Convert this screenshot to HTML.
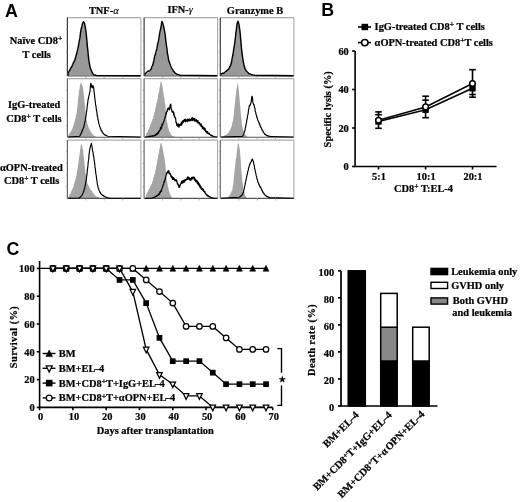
<!DOCTYPE html>
<html><head><meta charset="utf-8"><style>
html,body{margin:0;padding:0;background:#fff;}
svg{display:block;filter:grayscale(1) blur(0.4px);}
</style></head><body>
<svg width="520" height="502" viewBox="0 0 520 502">
<rect width="520" height="502" fill="#fff"/>
<text x="4.9" y="17.0" font-family="Liberation Sans" font-weight="bold" font-size="17.8">A</text>
<g font-family="Liberation Serif" font-weight="bold" stroke="#000" stroke-width="0.22" font-size="10.4" text-anchor="middle">
<text x="103.8" y="13.5">TNF-<tspan font-style="italic" font-weight="normal" stroke-width="0.15">α</tspan></text>
<text x="180.2" y="13.3">IFN-<tspan font-style="italic" font-weight="normal" stroke-width="0.15">γ</tspan></text>
<text x="255" y="13.5">Granzyme B</text>
<text x="36" y="43.8">Naïve CD8<tspan dy="-2.7" font-size="7.6">+</tspan><tspan dy="2.7"></tspan></text>
<text x="36.7" y="58">T cells</text>
<text x="34.1" y="107.9">IgG-treated</text>
<text x="34" y="121.6">CD8<tspan dy="-2.7" font-size="7.6">+</tspan><tspan dy="2.7"> T cells</tspan></text>
<text x="31.3" y="171.2">αOPN-treated</text>
<text x="31.6" y="184">CD8<tspan dy="-2.7" font-size="7.6">+</tspan><tspan dy="2.7"> T cells</tspan></text>
</g>
<line x1="67.6" y1="17.6" x2="140.9" y2="17.6" stroke="#aaa" stroke-width="1.3"/>
<line x1="140.9" y1="17.6" x2="140.9" y2="76.0" stroke="#aaa" stroke-width="1.1"/>
<line x1="144.3" y1="17.6" x2="217.6" y2="17.6" stroke="#aaa" stroke-width="1.3"/>
<line x1="217.6" y1="17.6" x2="217.6" y2="76.0" stroke="#aaa" stroke-width="1.1"/>
<line x1="220.5" y1="17.6" x2="293.9" y2="17.6" stroke="#aaa" stroke-width="1.3"/>
<line x1="293.9" y1="17.6" x2="293.9" y2="76.0" stroke="#aaa" stroke-width="1.1"/>
<line x1="67.6" y1="78.6" x2="140.9" y2="78.6" stroke="#aaa" stroke-width="1.3"/>
<line x1="140.9" y1="78.6" x2="140.9" y2="137.2" stroke="#aaa" stroke-width="1.1"/>
<line x1="144.3" y1="78.6" x2="217.6" y2="78.6" stroke="#aaa" stroke-width="1.3"/>
<line x1="217.6" y1="78.6" x2="217.6" y2="137.2" stroke="#aaa" stroke-width="1.1"/>
<line x1="220.5" y1="78.6" x2="293.9" y2="78.6" stroke="#aaa" stroke-width="1.3"/>
<line x1="293.9" y1="78.6" x2="293.9" y2="137.2" stroke="#aaa" stroke-width="1.1"/>
<line x1="67.6" y1="140.1" x2="140.9" y2="140.1" stroke="#aaa" stroke-width="1.3"/>
<line x1="140.9" y1="140.1" x2="140.9" y2="198.4" stroke="#aaa" stroke-width="1.1"/>
<line x1="144.3" y1="140.1" x2="217.6" y2="140.1" stroke="#aaa" stroke-width="1.3"/>
<line x1="217.6" y1="140.1" x2="217.6" y2="198.4" stroke="#aaa" stroke-width="1.1"/>
<line x1="220.5" y1="140.1" x2="293.9" y2="140.1" stroke="#aaa" stroke-width="1.3"/>
<line x1="293.9" y1="140.1" x2="293.9" y2="198.4" stroke="#aaa" stroke-width="1.1"/>
<path d="M67.9,75.8 L67.9,74.5 L68.4,73.5 L68.9,73.2 L69.4,71.8 L69.9,71.7 L70.4,69.8 L70.9,69.7 L71.4,67.8 L71.9,67.8 L72.4,66.0 L72.9,65.9 L73.4,64.3 L73.9,64.1 L74.4,61.2 L74.9,61.2 L75.4,58.9 L75.9,58.6 L76.4,55.0 L76.9,55.1 L77.4,51.8 L77.9,51.5 L78.4,47.6 L78.9,46.2 L79.4,41.7 L79.9,39.4 L80.4,35.2 L80.9,32.7 L81.4,28.7 L81.9,28.2 L82.4,25.5 L82.9,25.7 L83.4,23.2 L83.9,24.3 L84.4,24.4 L84.9,27.1 L85.4,29.4 L85.9,34.5 L86.4,37.2 L86.9,43.0 L87.4,46.8 L87.9,53.5 L88.4,57.7 L88.9,63.0 L89.4,64.0 L89.9,67.7 L90.4,68.4 L90.9,71.3 L91.4,71.2 L91.9,73.3 L92.4,73.5 L92.9,74.5 L93.4,74.6 L93.9,75.0 L94.4,75.0 L94.9,75.3 L95.4,75.3 L95.9,75.5 L96.4,75.5 L96.9,75.6 L96.9,75.6 L96.9,75.8 Z" fill="#999"/>
<line x1="67.6" y1="76.0" x2="140.9" y2="76.0" stroke="#555" stroke-width="1.1"/>
<path d="M68.1,75.8 L67.9,73.4 L68.4,72.7 L68.9,71.4 L69.4,70.9 L69.9,69.9 L70.4,68.9 L70.9,67.8 L71.4,67.4 L71.9,66.6 L72.4,65.0 L72.9,64.3 L73.4,62.5 L73.9,62.2 L74.4,60.9 L74.9,59.9 L75.4,58.3 L75.9,56.0 L76.4,54.5 L76.9,53.1 L77.4,50.4 L77.9,48.7 L78.4,46.0 L78.9,43.2 L79.4,40.2 L79.9,37.9 L80.4,33.6 L80.9,30.4 L81.4,28.0 L81.9,26.5 L82.4,23.8 L82.9,22.8 L83.4,21.8 L83.9,22.1 L84.4,23.1 L84.9,25.3 L85.4,27.5 L85.9,31.4 L86.4,35.6 L86.9,41.1 L87.4,46.6 L87.9,51.0 L88.4,56.7 L88.9,60.7 L89.4,63.6 L89.9,66.2 L90.4,68.2 L90.9,69.4 L91.4,70.5 L91.9,72.1 L92.4,72.9 L92.9,73.7 L93.4,74.3 L93.9,74.6 L94.4,74.8 L94.9,75.0 L95.4,75.2 L95.9,75.3 L96.4,75.5 L96.9,75.6 L96.9,75.6 L140.4,75.8" fill="none" stroke="#000" stroke-width="1.45" stroke-linejoin="round"/>
<line x1="67.39999999999999" y1="17.6" x2="67.39999999999999" y2="76.0" stroke="#3a3a3a" stroke-width="1.2"/>
<line x1="66.1" y1="29.3" x2="67.6" y2="29.3" stroke="#888" stroke-width="0.8"/>
<line x1="66.1" y1="41.0" x2="67.6" y2="41.0" stroke="#888" stroke-width="0.8"/>
<line x1="66.1" y1="52.6" x2="67.6" y2="52.6" stroke="#888" stroke-width="0.8"/>
<line x1="66.1" y1="64.3" x2="67.6" y2="64.3" stroke="#888" stroke-width="0.8"/>
<line x1="85.9" y1="76.0" x2="85.9" y2="78.0" stroke="#999" stroke-width="0.8"/>
<line x1="104.2" y1="76.0" x2="104.2" y2="78.0" stroke="#999" stroke-width="0.8"/>
<line x1="122.6" y1="76.0" x2="122.6" y2="78.0" stroke="#999" stroke-width="0.8"/>
<path d="M145.5,75.8 L145.5,74.7 L146.0,73.9 L146.5,74.0 L147.0,73.3 L147.5,73.3 L148.0,72.3 L148.5,72.5 L149.0,71.9 L149.5,72.0 L150.0,71.1 L150.5,71.4 L151.0,70.1 L151.5,69.8 L152.0,68.3 L152.5,67.6 L153.0,65.1 L153.5,64.1 L154.0,60.8 L154.5,60.7 L155.0,57.6 L155.5,56.5 L156.0,53.6 L156.5,52.7 L157.0,49.7 L157.5,48.8 L158.0,44.2 L158.5,43.6 L159.0,39.7 L159.5,37.9 L160.0,34.6 L160.5,32.7 L161.0,28.6 L161.5,26.8 L162.0,23.4 L162.5,24.2 L163.0,24.5 L163.5,28.8 L164.0,30.1 L164.5,34.3 L165.0,36.8 L165.5,41.4 L166.0,43.4 L166.5,49.4 L167.0,51.3 L167.5,56.0 L168.0,57.9 L168.5,61.5 L169.0,62.3 L169.5,65.7 L170.0,65.5 L170.5,68.2 L171.0,68.3 L171.5,70.7 L172.0,69.4 L172.5,72.0 L173.0,71.1 L173.5,72.9 L174.0,72.3 L174.5,73.4 L175.0,73.4 L175.5,74.2 L176.0,74.3 L176.5,74.7 L177.0,74.8 L177.5,75.1 L178.0,75.2 L178.5,75.5 L179.0,75.6 L179.0,75.6 L179.0,75.8 Z" fill="#999"/>
<line x1="144.3" y1="76.0" x2="217.6" y2="76.0" stroke="#555" stroke-width="1.1"/>
<path d="M144.8,75.8 L144.9,73.7 L145.4,73.5 L145.9,73.2 L146.4,72.5 L146.9,72.0 L147.4,71.7 L147.9,71.3 L148.4,70.9 L148.9,71.1 L149.4,71.1 L149.9,70.7 L150.4,69.7 L150.9,69.4 L151.4,68.8 L151.9,66.5 L152.4,65.9 L152.9,64.6 L153.4,62.4 L153.9,60.3 L154.4,57.8 L154.9,55.4 L155.4,54.6 L155.9,51.9 L156.4,50.6 L156.9,48.7 L157.4,45.5 L157.9,43.0 L158.4,41.4 L158.9,38.5 L159.4,35.0 L159.9,32.3 L160.4,29.7 L160.9,27.8 L161.4,24.5 L161.9,21.4 L162.4,22.3 L162.9,23.9 L163.4,25.6 L163.9,27.6 L164.4,30.5 L164.9,33.1 L165.4,36.5 L165.9,41.8 L166.4,45.1 L166.9,48.7 L167.4,53.1 L167.9,55.3 L168.4,58.7 L168.9,61.1 L169.4,62.1 L169.9,63.8 L170.4,65.3 L170.9,66.5 L171.4,68.1 L171.9,68.5 L172.4,69.6 L172.9,69.9 L173.4,71.6 L173.9,71.5 L174.4,72.2 L174.9,72.8 L175.4,73.4 L175.9,73.5 L176.4,74.1 L176.9,74.1 L177.4,74.4 L177.9,74.6 L178.4,74.6 L178.9,74.9 L179.4,75.0 L179.9,75.2 L180.0,75.3 L217.1,75.8" fill="none" stroke="#000" stroke-width="1.45" stroke-linejoin="round"/>
<line x1="144.10000000000002" y1="17.6" x2="144.10000000000002" y2="76.0" stroke="#3a3a3a" stroke-width="1.2"/>
<line x1="142.8" y1="29.3" x2="144.3" y2="29.3" stroke="#888" stroke-width="0.8"/>
<line x1="142.8" y1="41.0" x2="144.3" y2="41.0" stroke="#888" stroke-width="0.8"/>
<line x1="142.8" y1="52.6" x2="144.3" y2="52.6" stroke="#888" stroke-width="0.8"/>
<line x1="142.8" y1="64.3" x2="144.3" y2="64.3" stroke="#888" stroke-width="0.8"/>
<line x1="162.6" y1="76.0" x2="162.6" y2="78.0" stroke="#999" stroke-width="0.8"/>
<line x1="180.9" y1="76.0" x2="180.9" y2="78.0" stroke="#999" stroke-width="0.8"/>
<line x1="199.3" y1="76.0" x2="199.3" y2="78.0" stroke="#999" stroke-width="0.8"/>
<path d="M221.0,75.8 L221.0,75.1 L221.5,74.8 L222.0,74.8 L222.5,74.3 L223.0,74.5 L223.5,73.9 L224.0,74.1 L224.5,73.3 L225.0,73.7 L225.5,72.8 L226.0,73.0 L226.5,71.9 L227.0,72.0 L227.5,70.5 L228.0,71.3 L228.5,69.3 L229.0,70.3 L229.5,67.4 L230.0,68.3 L230.5,65.8 L231.0,65.9 L231.5,62.7 L232.0,62.1 L232.5,58.0 L233.0,56.4 L233.5,52.0 L234.0,50.5 L234.5,45.0 L235.0,43.3 L235.5,37.0 L236.0,34.4 L236.5,29.2 L237.0,27.5 L237.5,22.6 L238.0,23.4 L238.5,24.0 L239.0,27.1 L239.5,29.0 L240.0,33.9 L240.5,38.4 L241.0,45.3 L241.5,49.5 L242.0,56.0 L242.5,58.2 L243.0,62.5 L243.5,63.3 L244.0,66.6 L244.5,66.9 L245.0,70.5 L245.5,70.0 L246.0,72.1 L246.5,71.6 L247.0,73.0 L247.5,72.5 L248.0,73.8 L248.5,73.7 L249.0,74.3 L249.5,74.2 L250.0,74.8 L250.5,74.8 L251.0,75.1 L251.5,75.2 L252.0,75.4 L252.5,75.4 L253.0,75.6 L253.0,75.6 L253.0,75.8 Z" fill="#999"/>
<line x1="220.5" y1="76.0" x2="293.9" y2="76.0" stroke="#555" stroke-width="1.1"/>
<path d="M221.0,75.8 L220.9,73.8 L221.4,73.8 L221.9,73.7 L222.4,73.5 L222.9,73.1 L223.4,73.4 L223.9,73.1 L224.4,73.0 L224.9,72.1 L225.4,71.9 L225.9,71.3 L226.4,71.5 L226.9,70.6 L227.4,69.9 L227.9,69.7 L228.4,69.7 L228.9,68.9 L229.4,67.4 L229.9,66.3 L230.4,66.1 L230.9,64.3 L231.4,62.8 L231.9,59.9 L232.4,57.2 L232.9,55.0 L233.4,51.7 L233.9,48.0 L234.4,45.6 L234.9,41.6 L235.4,37.9 L235.9,32.6 L236.4,29.5 L236.9,24.8 L237.4,22.6 L237.9,21.2 L238.4,22.1 L238.9,24.4 L239.4,27.6 L239.9,30.7 L240.4,35.6 L240.9,41.7 L241.4,47.5 L241.9,52.2 L242.4,56.1 L242.9,59.3 L243.4,62.3 L243.9,64.7 L244.4,66.5 L244.9,68.5 L245.4,69.2 L245.9,70.4 L246.4,70.9 L246.9,71.7 L247.4,72.0 L247.9,72.6 L248.4,72.9 L248.9,73.6 L249.4,73.8 L249.9,73.9 L250.4,74.2 L250.9,74.5 L251.4,74.5 L251.9,74.8 L252.4,74.8 L252.9,74.9 L253.4,75.1 L253.9,75.1 L254.4,75.2 L254.8,75.3 L293.4,75.8" fill="none" stroke="#000" stroke-width="1.45" stroke-linejoin="round"/>
<line x1="220.3" y1="17.6" x2="220.3" y2="76.0" stroke="#3a3a3a" stroke-width="1.2"/>
<line x1="219.0" y1="29.3" x2="220.5" y2="29.3" stroke="#888" stroke-width="0.8"/>
<line x1="219.0" y1="41.0" x2="220.5" y2="41.0" stroke="#888" stroke-width="0.8"/>
<line x1="219.0" y1="52.6" x2="220.5" y2="52.6" stroke="#888" stroke-width="0.8"/>
<line x1="219.0" y1="64.3" x2="220.5" y2="64.3" stroke="#888" stroke-width="0.8"/>
<line x1="238.8" y1="76.0" x2="238.8" y2="78.0" stroke="#999" stroke-width="0.8"/>
<line x1="257.2" y1="76.0" x2="257.2" y2="78.0" stroke="#999" stroke-width="0.8"/>
<line x1="275.5" y1="76.0" x2="275.5" y2="78.0" stroke="#999" stroke-width="0.8"/>
<path d="M68.5,137.0 L68.5,135.3 L69.0,133.7 L69.5,133.8 L70.0,132.1 L70.5,132.8 L71.0,130.4 L71.5,130.9 L72.0,128.8 L72.5,128.4 L73.0,126.5 L73.5,125.6 L74.0,122.8 L74.5,122.5 L75.0,119.8 L75.5,118.4 L76.0,114.8 L76.5,114.2 L77.0,109.0 L77.5,105.9 L78.0,99.3 L78.5,95.7 L79.0,91.0 L79.5,89.0 L80.0,84.9 L80.5,83.6 L81.0,81.5 L81.5,84.5 L82.0,83.8 L82.5,86.6 L83.0,87.2 L83.5,92.5 L84.0,95.9 L84.5,101.8 L85.0,106.3 L85.5,112.4 L86.0,115.5 L86.5,120.0 L87.0,121.4 L87.5,124.3 L88.0,125.3 L88.5,127.5 L89.0,127.7 L89.5,129.5 L90.0,129.9 L90.5,131.5 L91.0,131.4 L91.5,133.2 L92.0,133.0 L92.5,134.6 L93.0,134.5 L93.5,135.5 L94.0,135.4 L94.5,136.1 L95.0,136.1 L95.5,136.6 L95.6,136.5 L95.6,137.0 Z" fill="#a5a5a5"/>
<line x1="67.6" y1="137.2" x2="140.9" y2="137.2" stroke="#555" stroke-width="1.1"/>
<path d="M68.1,137.0 L79.6,136.3 L80.0,135.4 L80.4,135.0 L80.8,133.8 L81.2,133.6 L81.6,131.7 L82.0,131.8 L82.4,129.7 L82.8,130.0 L83.2,127.9 L83.6,127.6 L84.0,125.3 L84.4,125.0 L84.8,121.9 L85.2,121.1 L85.6,117.5 L86.0,116.2 L86.4,112.2 L86.8,110.5 L87.2,106.3 L87.6,103.7 L88.0,100.2 L88.4,98.5 L88.8,96.0 L89.2,95.3 L89.6,92.5 L90.0,91.8 L90.4,86.2 L90.8,83.3 L91.2,84.2 L91.6,87.3 L92.0,87.4 L92.4,87.8 L92.8,85.3 L93.2,86.1 L93.6,87.0 L94.0,91.1 L94.4,93.7 L94.8,98.0 L95.2,100.9 L95.6,104.6 L96.0,106.4 L96.4,110.0 L96.8,111.6 L97.2,115.5 L97.6,116.6 L98.0,119.7 L98.4,120.9 L98.8,123.8 L99.2,124.1 L99.6,126.6 L100.0,126.6 L100.4,128.5 L100.8,128.9 L101.2,130.5 L101.6,130.3 L102.0,132.0 L102.4,131.9 L102.8,133.0 L103.2,133.2 L103.6,134.0 L104.0,133.9 L104.4,134.7 L104.8,134.5 L105.2,135.1 L105.6,135.0 L106.0,135.5 L106.4,135.5 L106.8,135.8 L107.2,135.8 L107.6,136.2 L108.0,136.3 L140.4,137.0" fill="none" stroke="#000" stroke-width="1.15" stroke-linejoin="round"/>
<line x1="67.39999999999999" y1="78.6" x2="67.39999999999999" y2="137.2" stroke="#666" stroke-width="1.2"/>
<line x1="66.1" y1="90.3" x2="67.6" y2="90.3" stroke="#888" stroke-width="0.8"/>
<line x1="66.1" y1="102.0" x2="67.6" y2="102.0" stroke="#888" stroke-width="0.8"/>
<line x1="66.1" y1="113.8" x2="67.6" y2="113.8" stroke="#888" stroke-width="0.8"/>
<line x1="66.1" y1="125.5" x2="67.6" y2="125.5" stroke="#888" stroke-width="0.8"/>
<line x1="85.9" y1="137.2" x2="85.9" y2="139.2" stroke="#999" stroke-width="0.8"/>
<line x1="104.2" y1="137.2" x2="104.2" y2="139.2" stroke="#999" stroke-width="0.8"/>
<line x1="122.6" y1="137.2" x2="122.6" y2="139.2" stroke="#999" stroke-width="0.8"/>
<path d="M145.9,137.0 L145.9,135.2 L146.4,133.1 L146.9,133.0 L147.4,131.3 L147.9,131.9 L148.4,128.7 L148.9,129.5 L149.4,127.3 L149.9,126.9 L150.4,124.1 L150.9,124.3 L151.4,121.8 L151.9,121.5 L152.4,118.9 L152.9,119.2 L153.4,116.0 L153.9,115.6 L154.4,111.9 L154.9,111.6 L155.4,107.6 L155.9,106.8 L156.4,103.1 L156.9,102.7 L157.4,99.5 L157.9,97.5 L158.4,94.1 L158.9,92.6 L159.4,88.6 L159.9,86.6 L160.4,82.7 L160.9,81.8 L161.4,81.1 L161.9,84.4 L162.4,85.6 L162.9,90.4 L163.4,92.2 L163.9,96.9 L164.4,98.0 L164.9,103.2 L165.4,105.4 L165.9,111.8 L166.4,116.3 L166.9,122.1 L167.4,123.1 L167.9,126.9 L168.4,127.8 L168.9,130.6 L169.4,131.2 L169.9,132.8 L170.4,132.8 L170.9,134.4 L171.4,134.4 L171.9,135.5 L172.4,135.7 L172.9,136.2 L173.4,136.2 L173.9,136.4 L174.4,136.3 L174.7,136.5 L174.7,137.0 Z" fill="#a5a5a5"/>
<line x1="144.3" y1="137.2" x2="217.6" y2="137.2" stroke="#555" stroke-width="1.1"/>
<path d="M144.8,137.0 L148.8,136.6 L149.2,136.3 L149.6,136.5 L150.0,136.2 L150.4,136.5 L150.8,136.1 L151.2,136.4 L151.6,136.1 L152.0,136.3 L152.4,135.9 L152.8,136.2 L153.2,135.6 L153.6,135.9 L154.0,135.5 L154.4,135.9 L154.8,135.1 L155.2,135.4 L155.6,134.6 L156.0,134.8 L156.4,133.7 L156.8,134.9 L157.2,133.3 L157.6,134.0 L158.0,132.4 L158.4,133.2 L158.8,131.2 L159.2,131.8 L159.6,130.3 L160.0,130.5 L160.4,127.6 L160.8,129.4 L161.2,127.0 L161.6,128.3 L162.0,124.0 L162.4,125.7 L162.8,123.5 L163.2,123.4 L163.6,121.5 L164.0,121.4 L164.4,119.1 L164.8,118.7 L165.2,116.3 L165.6,116.6 L166.0,112.5 L166.4,114.2 L166.8,110.8 L167.2,111.4 L167.6,108.7 L168.0,109.9 L168.4,107.9 L168.8,108.7 L169.2,107.8 L169.6,109.9 L170.0,105.5 L170.4,104.7 L170.8,104.1 L171.2,109.0 L171.6,109.1 L172.0,111.8 L172.4,111.1 L172.8,112.6 L173.2,111.3 L173.6,114.8 L174.0,112.7 L174.4,116.9 L174.8,116.3 L175.2,118.1 L175.6,117.9 L176.0,122.6 L176.4,122.1 L176.8,125.5 L177.2,124.8 L177.6,126.1 L178.0,123.8 L178.4,126.9 L178.8,123.8 L179.2,127.0 L179.6,124.6 L180.0,125.3 L180.4,124.2 L180.8,125.3 L181.2,122.6 L181.6,125.2 L182.0,121.7 L182.4,123.8 L182.8,120.7 L183.2,122.6 L183.6,120.3 L184.0,121.3 L184.4,119.4 L184.8,121.3 L185.2,119.0 L185.6,121.8 L186.0,119.8 L186.4,120.9 L186.8,119.8 L187.2,121.6 L187.6,119.0 L188.0,120.6 L188.4,119.8 L188.8,121.1 L189.2,118.9 L189.6,120.7 L190.0,119.2 L190.4,120.8 L190.8,119.3 L191.2,120.0 L191.6,118.2 L192.0,120.6 L192.4,117.6 L192.8,120.4 L193.2,118.0 L193.6,119.6 L194.0,118.7 L194.4,121.2 L194.8,118.4 L195.2,120.7 L195.6,120.0 L196.0,121.5 L196.4,119.5 L196.8,121.9 L197.2,120.8 L197.6,122.9 L198.0,120.4 L198.4,122.9 L198.8,122.4 L199.2,123.8 L199.6,122.6 L200.0,125.1 L200.4,123.8 L200.8,126.2 L201.2,123.8 L201.6,126.7 L202.0,125.7 L202.4,128.4 L202.8,126.5 L203.2,129.2 L203.6,127.6 L204.0,129.3 L204.4,127.9 L204.8,130.4 L205.2,128.6 L205.6,131.8 L206.0,130.8 L206.4,132.2 L206.8,131.4 L207.2,133.4 L207.6,131.6 L208.0,133.4 L208.4,133.0 L208.8,134.1 L209.2,133.2 L209.6,134.5 L210.0,134.5 L210.4,135.0 L210.8,134.9 L211.2,135.8 L211.6,135.1 L212.0,136.0 L212.4,135.6 L212.8,136.3 L213.2,136.2 L213.6,136.5 L213.7,136.5 L217.1,137.0" fill="none" stroke="#000" stroke-width="1.15" stroke-linejoin="round"/>
<line x1="144.10000000000002" y1="78.6" x2="144.10000000000002" y2="137.2" stroke="#666" stroke-width="1.2"/>
<line x1="142.8" y1="90.3" x2="144.3" y2="90.3" stroke="#888" stroke-width="0.8"/>
<line x1="142.8" y1="102.0" x2="144.3" y2="102.0" stroke="#888" stroke-width="0.8"/>
<line x1="142.8" y1="113.8" x2="144.3" y2="113.8" stroke="#888" stroke-width="0.8"/>
<line x1="142.8" y1="125.5" x2="144.3" y2="125.5" stroke="#888" stroke-width="0.8"/>
<line x1="162.6" y1="137.2" x2="162.6" y2="139.2" stroke="#999" stroke-width="0.8"/>
<line x1="180.9" y1="137.2" x2="180.9" y2="139.2" stroke="#999" stroke-width="0.8"/>
<line x1="199.3" y1="137.2" x2="199.3" y2="139.2" stroke="#999" stroke-width="0.8"/>
<path d="M223.9,137.0 L223.9,135.9 L224.4,135.2 L224.9,135.3 L225.4,134.8 L225.9,135.1 L226.4,134.4 L226.9,134.6 L227.4,133.8 L227.9,133.6 L228.4,132.6 L228.9,132.7 L229.4,130.5 L229.9,131.0 L230.4,128.5 L230.9,128.7 L231.4,126.2 L231.9,126.0 L232.4,121.9 L232.9,121.2 L233.4,117.5 L233.9,114.0 L234.4,107.3 L234.9,104.1 L235.4,97.8 L235.9,94.5 L236.4,89.2 L236.9,87.1 L237.4,81.9 L237.9,85.3 L238.4,86.5 L238.9,91.8 L239.4,96.7 L239.9,103.3 L240.4,107.8 L240.9,115.1 L241.4,118.6 L241.9,124.9 L242.4,126.5 L242.9,130.0 L243.4,130.5 L243.9,133.5 L244.4,133.7 L244.9,135.0 L245.4,134.9 L245.9,135.6 L246.4,135.8 L246.9,136.3 L247.4,136.4 L247.4,136.5 L247.4,137.0 Z" fill="#a5a5a5"/>
<line x1="220.5" y1="137.2" x2="293.9" y2="137.2" stroke="#555" stroke-width="1.1"/>
<path d="M221.0,137.0 L242.5,136.4 L242.9,135.5 L243.3,135.0 L243.7,134.0 L244.1,133.5 L244.5,131.2 L244.9,131.0 L245.3,128.0 L245.7,126.8 L246.1,123.9 L246.5,122.8 L246.9,119.5 L247.3,118.3 L247.7,115.0 L248.1,114.0 L248.5,110.0 L248.9,108.6 L249.3,105.7 L249.7,105.9 L250.1,104.6 L250.5,104.9 L250.9,102.8 L251.3,101.3 L251.7,97.2 L252.1,96.2 L252.5,97.6 L252.9,102.5 L253.3,103.6 L253.7,104.8 L254.1,104.7 L254.5,107.5 L254.9,107.9 L255.3,111.5 L255.7,112.3 L256.1,114.6 L256.5,115.6 L256.9,117.7 L257.3,117.8 L257.7,120.1 L258.1,120.4 L258.5,122.2 L258.9,122.1 L259.3,124.2 L259.7,123.9 L260.1,126.2 L260.5,125.8 L260.9,127.7 L261.3,127.6 L261.7,129.5 L262.1,129.3 L262.5,131.1 L262.9,130.8 L263.3,132.3 L263.7,132.4 L264.1,133.4 L264.5,133.5 L264.9,134.4 L265.3,134.2 L265.7,134.9 L266.1,134.9 L266.5,135.5 L266.9,135.4 L267.3,135.8 L267.7,135.7 L268.1,136.1 L268.5,135.9 L268.9,136.2 L269.3,136.2 L269.7,136.4 L270.1,136.3 L270.5,136.5 L270.9,136.5 L270.9,136.5 L293.4,137.0" fill="none" stroke="#000" stroke-width="1.15" stroke-linejoin="round"/>
<line x1="220.3" y1="78.6" x2="220.3" y2="137.2" stroke="#666" stroke-width="1.2"/>
<line x1="219.0" y1="90.3" x2="220.5" y2="90.3" stroke="#888" stroke-width="0.8"/>
<line x1="219.0" y1="102.0" x2="220.5" y2="102.0" stroke="#888" stroke-width="0.8"/>
<line x1="219.0" y1="113.8" x2="220.5" y2="113.8" stroke="#888" stroke-width="0.8"/>
<line x1="219.0" y1="125.5" x2="220.5" y2="125.5" stroke="#888" stroke-width="0.8"/>
<line x1="238.8" y1="137.2" x2="238.8" y2="139.2" stroke="#999" stroke-width="0.8"/>
<line x1="257.2" y1="137.2" x2="257.2" y2="139.2" stroke="#999" stroke-width="0.8"/>
<line x1="275.5" y1="137.2" x2="275.5" y2="139.2" stroke="#999" stroke-width="0.8"/>
<path d="M68.5,198.2 L68.5,197.1 L69.0,195.9 L69.5,195.3 L70.0,193.4 L70.5,193.8 L71.0,191.0 L71.5,191.7 L72.0,188.9 L72.5,189.5 L73.0,187.2 L73.5,187.2 L74.0,183.6 L74.5,183.3 L75.0,180.4 L75.5,180.0 L76.0,176.7 L76.5,175.4 L77.0,171.8 L77.5,169.5 L78.0,165.3 L78.5,163.1 L79.0,157.6 L79.5,155.1 L80.0,151.0 L80.5,148.1 L81.0,143.8 L81.5,144.4 L82.0,144.8 L82.5,148.1 L83.0,149.7 L83.5,154.8 L84.0,158.4 L84.5,164.0 L85.0,167.8 L85.5,173.4 L86.0,175.2 L86.5,179.1 L87.0,180.8 L87.5,184.0 L88.0,183.9 L88.5,186.1 L89.0,186.0 L89.5,188.5 L90.0,187.7 L90.5,189.9 L91.0,189.4 L91.5,191.3 L92.0,190.3 L92.5,193.3 L93.0,192.3 L93.5,193.8 L94.0,193.5 L94.5,194.9 L95.0,195.1 L95.5,196.2 L96.0,195.9 L96.5,196.7 L97.0,196.5 L97.5,197.1 L98.0,197.0 L98.5,197.3 L99.0,197.4 L99.3,197.6 L99.3,198.2 Z" fill="#a5a5a5"/>
<line x1="67.6" y1="198.4" x2="140.9" y2="198.4" stroke="#555" stroke-width="1.1"/>
<path d="M68.1,198.2 L79.0,198.0 L79.4,197.6 L79.8,197.5 L80.2,197.1 L80.6,196.9 L81.0,196.3 L81.4,196.2 L81.8,195.4 L82.2,195.0 L82.6,193.7 L83.0,193.7 L83.4,191.7 L83.8,191.3 L84.2,188.8 L84.6,188.8 L85.0,186.0 L85.4,184.6 L85.8,181.4 L86.2,180.5 L86.6,176.7 L87.0,174.2 L87.4,169.6 L87.8,167.2 L88.2,162.3 L88.6,159.9 L89.0,155.0 L89.4,152.3 L89.8,148.9 L90.2,147.8 L90.6,145.2 L91.0,145.1 L91.4,143.3 L91.8,145.7 L92.2,147.8 L92.6,151.1 L93.0,152.3 L93.4,155.5 L93.8,157.2 L94.2,160.6 L94.6,162.5 L95.0,166.9 L95.4,169.2 L95.8,173.4 L96.2,175.3 L96.6,179.2 L97.0,181.1 L97.4,184.5 L97.8,185.5 L98.2,188.2 L98.6,188.4 L99.0,190.5 L99.4,190.7 L99.8,192.5 L100.2,192.2 L100.6,193.7 L101.0,193.4 L101.4,194.5 L101.8,194.5 L102.2,195.3 L102.6,195.0 L103.0,195.7 L103.4,195.6 L103.8,196.3 L104.2,196.2 L104.6,196.6 L105.0,196.6 L105.4,197.0 L105.8,197.1 L106.2,197.4 L106.6,197.4 L107.0,197.6 L107.4,197.7 L107.8,197.8 L108.2,197.9 L108.6,198.0 L109.0,198.1 L109.2,198.2 L140.4,198.2" fill="none" stroke="#000" stroke-width="1.15" stroke-linejoin="round"/>
<line x1="67.39999999999999" y1="140.1" x2="67.39999999999999" y2="198.4" stroke="#666" stroke-width="1.2"/>
<line x1="66.1" y1="151.8" x2="67.6" y2="151.8" stroke="#888" stroke-width="0.8"/>
<line x1="66.1" y1="163.4" x2="67.6" y2="163.4" stroke="#888" stroke-width="0.8"/>
<line x1="66.1" y1="175.1" x2="67.6" y2="175.1" stroke="#888" stroke-width="0.8"/>
<line x1="66.1" y1="186.7" x2="67.6" y2="186.7" stroke="#888" stroke-width="0.8"/>
<line x1="85.9" y1="198.4" x2="85.9" y2="200.4" stroke="#999" stroke-width="0.8"/>
<line x1="104.2" y1="198.4" x2="104.2" y2="200.4" stroke="#999" stroke-width="0.8"/>
<line x1="122.6" y1="198.4" x2="122.6" y2="200.4" stroke="#999" stroke-width="0.8"/>
<path d="M145.9,198.2 L145.9,195.8 L146.4,193.9 L146.9,193.6 L147.4,191.7 L147.9,192.0 L148.4,189.3 L148.9,189.7 L149.4,187.3 L149.9,188.4 L150.4,185.2 L150.9,186.0 L151.4,183.5 L151.9,183.9 L152.4,180.7 L152.9,181.1 L153.4,177.3 L153.9,177.1 L154.4,173.8 L154.9,173.9 L155.4,170.3 L155.9,168.9 L156.4,165.0 L156.9,163.8 L157.4,159.6 L157.9,158.4 L158.4,154.2 L158.9,152.7 L159.4,148.8 L159.9,147.8 L160.4,143.6 L160.9,143.1 L161.4,142.7 L161.9,145.7 L162.4,147.0 L162.9,149.9 L163.4,151.7 L163.9,156.0 L164.4,157.0 L164.9,162.3 L165.4,164.6 L165.9,171.2 L166.4,175.6 L166.9,180.8 L167.4,182.5 L167.9,186.7 L168.4,187.4 L168.9,191.3 L169.4,191.4 L169.9,194.3 L170.4,194.4 L170.9,196.1 L171.4,196.3 L171.9,197.5 L172.4,198.1 L172.9,198.2 L173.0,198.2 L173.0,198.2 Z" fill="#a5a5a5"/>
<line x1="144.3" y1="198.4" x2="217.6" y2="198.4" stroke="#555" stroke-width="1.1"/>
<path d="M144.8,198.2 L151.7,198.2 L152.1,198.0 L152.5,197.9 L152.9,197.6 L153.3,197.7 L153.7,197.4 L154.1,197.5 L154.5,197.1 L154.9,197.2 L155.3,196.6 L155.7,196.9 L156.1,195.9 L156.5,196.5 L156.9,195.4 L157.3,195.9 L157.7,195.2 L158.1,195.1 L158.5,194.4 L158.9,194.9 L159.3,193.2 L159.7,194.0 L160.1,191.4 L160.5,192.4 L160.9,190.7 L161.3,191.5 L161.7,189.1 L162.1,188.5 L162.5,186.5 L162.9,186.4 L163.3,184.2 L163.7,184.2 L164.1,181.4 L164.5,182.1 L164.9,179.2 L165.3,179.4 L165.7,176.1 L166.1,176.0 L166.5,172.9 L166.9,173.9 L167.3,172.2 L167.7,172.3 L168.1,170.5 L168.5,173.0 L168.9,170.8 L169.3,173.6 L169.7,173.0 L170.1,174.5 L170.5,173.8 L170.9,176.6 L171.3,175.6 L171.7,178.0 L172.1,176.6 L172.5,179.5 L172.9,177.2 L173.3,179.3 L173.7,177.7 L174.1,179.7 L174.5,178.8 L174.9,180.8 L175.3,179.7 L175.7,180.8 L176.1,179.5 L176.5,181.3 L176.9,180.6 L177.3,183.9 L177.7,183.0 L178.1,185.1 L178.5,184.7 L178.9,187.3 L179.3,185.5 L179.7,187.5 L180.1,184.9 L180.5,185.0 L180.9,182.9 L181.3,183.2 L181.7,181.1 L182.1,183.6 L182.5,180.9 L182.9,182.1 L183.3,180.3 L183.7,182.6 L184.1,180.2 L184.5,182.0 L184.9,179.6 L185.3,180.7 L185.7,179.5 L186.1,180.1 L186.5,179.0 L186.9,179.6 L187.3,177.3 L187.7,179.5 L188.1,176.7 L188.5,179.2 L188.9,177.6 L189.3,179.5 L189.7,178.1 L190.1,180.6 L190.5,178.5 L190.9,179.8 L191.3,177.7 L191.7,179.8 L192.1,177.2 L192.5,178.7 L192.9,177.0 L193.3,178.0 L193.7,177.2 L194.1,179.5 L194.5,177.2 L194.9,180.5 L195.3,179.1 L195.7,181.7 L196.1,180.1 L196.5,181.8 L196.9,180.3 L197.3,183.4 L197.7,181.7 L198.1,184.6 L198.5,182.4 L198.9,185.5 L199.3,183.9 L199.7,187.0 L200.1,185.0 L200.5,187.8 L200.9,186.4 L201.3,189.1 L201.7,188.0 L202.1,189.6 L202.5,188.5 L202.9,190.4 L203.3,189.1 L203.7,191.4 L204.1,191.3 L204.5,192.4 L204.9,191.2 L205.3,193.7 L205.7,193.3 L206.1,194.3 L206.5,194.4 L206.9,195.6 L207.3,194.9 L207.7,196.2 L208.1,195.6 L208.5,196.4 L208.9,196.2 L209.3,196.9 L209.7,196.6 L210.1,197.3 L210.5,197.0 L210.9,197.5 L211.3,197.5 L211.7,197.8 L212.1,197.7 L212.5,198.0 L212.9,198.0 L213.3,198.1 L213.7,198.2 L217.1,198.2" fill="none" stroke="#000" stroke-width="1.15" stroke-linejoin="round"/>
<line x1="144.10000000000002" y1="140.1" x2="144.10000000000002" y2="198.4" stroke="#666" stroke-width="1.2"/>
<line x1="142.8" y1="151.8" x2="144.3" y2="151.8" stroke="#888" stroke-width="0.8"/>
<line x1="142.8" y1="163.4" x2="144.3" y2="163.4" stroke="#888" stroke-width="0.8"/>
<line x1="142.8" y1="175.1" x2="144.3" y2="175.1" stroke="#888" stroke-width="0.8"/>
<line x1="142.8" y1="186.7" x2="144.3" y2="186.7" stroke="#888" stroke-width="0.8"/>
<line x1="162.6" y1="198.4" x2="162.6" y2="200.4" stroke="#999" stroke-width="0.8"/>
<line x1="180.9" y1="198.4" x2="180.9" y2="200.4" stroke="#999" stroke-width="0.8"/>
<line x1="199.3" y1="198.4" x2="199.3" y2="200.4" stroke="#999" stroke-width="0.8"/>
<path d="M228.3,198.2 L228.3,197.0 L228.8,195.9 L229.3,196.0 L229.8,194.4 L230.3,194.7 L230.8,192.4 L231.3,192.6 L231.8,190.8 L232.3,189.9 L232.8,186.4 L233.3,183.8 L233.8,178.0 L234.3,174.0 L234.8,167.9 L235.3,164.2 L235.8,159.5 L236.3,157.2 L236.8,151.4 L237.3,148.3 L237.8,143.6 L238.3,144.0 L238.8,143.0 L239.3,147.1 L239.8,149.5 L240.3,155.6 L240.8,160.8 L241.3,169.5 L241.8,174.2 L242.3,181.2 L242.8,184.1 L243.3,189.1 L243.8,190.2 L244.3,193.2 L244.8,193.6 L245.3,195.5 L245.8,196.3 L246.3,197.3 L246.8,197.9 L247.0,198.2 L247.0,198.2 Z" fill="#a5a5a5"/>
<line x1="220.5" y1="198.4" x2="293.9" y2="198.4" stroke="#555" stroke-width="1.1"/>
<path d="M221.0,198.2 L239.4,197.2 L239.8,196.7 L240.2,196.7 L240.6,196.1 L241.0,196.3 L241.4,195.5 L241.8,195.4 L242.2,194.3 L242.6,194.4 L243.0,192.7 L243.4,192.6 L243.8,190.1 L244.2,189.1 L244.6,186.2 L245.0,185.2 L245.4,182.4 L245.8,181.4 L246.2,178.7 L246.6,177.8 L247.0,174.7 L247.4,174.3 L247.8,171.3 L248.2,170.5 L248.6,168.0 L249.0,167.3 L249.4,164.9 L249.8,164.8 L250.2,162.9 L250.6,163.0 L251.0,161.7 L251.4,161.5 L251.8,159.5 L252.2,160.1 L252.6,159.0 L253.0,160.9 L253.4,161.5 L253.8,164.2 L254.2,165.2 L254.6,168.5 L255.0,169.2 L255.4,172.3 L255.8,173.1 L256.2,175.7 L256.6,176.6 L257.0,179.2 L257.4,179.4 L257.8,182.0 L258.2,182.3 L258.6,184.1 L259.0,183.9 L259.4,186.0 L259.8,185.9 L260.2,187.4 L260.6,186.9 L261.0,188.7 L261.4,188.8 L261.8,190.3 L262.2,190.0 L262.6,192.1 L263.0,191.8 L263.4,193.0 L263.8,193.0 L264.2,194.2 L264.6,194.1 L265.0,195.1 L265.4,195.2 L265.8,195.8 L266.2,195.7 L266.6,196.5 L267.0,196.4 L267.4,196.9 L267.8,196.8 L268.2,197.1 L268.6,197.0 L269.0,197.4 L269.4,197.4 L269.6,197.6 L293.4,198.2" fill="none" stroke="#000" stroke-width="1.15" stroke-linejoin="round"/>
<line x1="220.3" y1="140.1" x2="220.3" y2="198.4" stroke="#666" stroke-width="1.2"/>
<line x1="219.0" y1="151.8" x2="220.5" y2="151.8" stroke="#888" stroke-width="0.8"/>
<line x1="219.0" y1="163.4" x2="220.5" y2="163.4" stroke="#888" stroke-width="0.8"/>
<line x1="219.0" y1="175.1" x2="220.5" y2="175.1" stroke="#888" stroke-width="0.8"/>
<line x1="219.0" y1="186.7" x2="220.5" y2="186.7" stroke="#888" stroke-width="0.8"/>
<line x1="238.8" y1="198.4" x2="238.8" y2="200.4" stroke="#999" stroke-width="0.8"/>
<line x1="257.2" y1="198.4" x2="257.2" y2="200.4" stroke="#999" stroke-width="0.8"/>
<line x1="275.5" y1="198.4" x2="275.5" y2="200.4" stroke="#999" stroke-width="0.8"/>
<text x="321.3" y="16.0" font-family="Liberation Sans" font-weight="bold" font-size="17.8">B</text>
<g stroke="#000" stroke-width="1.6">
<line x1="358" y1="27" x2="371" y2="27"/>
<line x1="358" y1="42.6" x2="371" y2="42.6"/>
</g>
<rect x="361.5" y="23.8" width="6.6" height="6.4" fill="#000"/>
<circle cx="364.8" cy="42.6" r="3.2" fill="#fff" stroke="#000" stroke-width="1.5"/>
<g font-family="Liberation Serif" font-weight="bold" stroke="#000" stroke-width="0.22" font-size="10.4">
<text x="374.6" y="29.9">IgG-treated CD8<tspan dy="-2.7" font-size="7.6">+</tspan><tspan dy="2.7"> T cells</tspan></text>
<text x="374.6" y="45.5">αOPN-treated CD8<tspan dy="-2.7" font-size="7.6">+</tspan><tspan dy="2.7">T cells</tspan></text>
</g>
<g stroke="#000" stroke-width="1.6" fill="none">
<path d="M355.1,51.0 L355.1,166.5 L496.5,166.5"/>
<line x1="352.1" y1="166.5" x2="355.1" y2="166.5"/>
<line x1="352.1" y1="128.0" x2="355.1" y2="128.0"/>
<line x1="352.1" y1="89.5" x2="355.1" y2="89.5"/>
<line x1="352.1" y1="51.0" x2="355.1" y2="51.0"/>
<line x1="378.5" y1="166.5" x2="378.5" y2="169.5"/>
<line x1="425.6" y1="166.5" x2="425.6" y2="169.5"/>
<line x1="472.5" y1="166.5" x2="472.5" y2="169.5"/>
</g>
<g font-family="Liberation Serif" font-weight="bold" stroke="#000" stroke-width="0.22" font-size="10.4" text-anchor="end">
<text x="348.8" y="170.2">0</text>
<text x="348.8" y="131.7">20</text>
<text x="348.8" y="93.2">40</text>
<text x="348.8" y="54.7">60</text>
</g>
<g font-family="Liberation Serif" font-weight="bold" stroke="#000" stroke-width="0.22" font-size="10.4" text-anchor="middle">
<text x="379.0" y="180">5:1</text>
<text x="426.1" y="180">10:1</text>
<text x="473.0" y="180">20:1</text>
<text x="423.5" y="191.7">CD8<tspan dy="-2.7" font-size="7.6">+</tspan><tspan dy="2.7"> T:EL-4</tspan></text>
<text transform="translate(331,109.3) rotate(-90)" x="0" y="0">Specific lysis (%)</text>
</g>
<g stroke="#000" stroke-width="1.6" fill="none">
<line x1="378.5" y1="111.9" x2="378.5" y2="128.3"/>
<line x1="375.2" y1="111.9" x2="381.8" y2="111.9"/>
<line x1="375.2" y1="128.3" x2="381.8" y2="128.3"/>
<line x1="375.2" y1="114.7" x2="381.8" y2="114.7"/>
<line x1="425.6" y1="96.2" x2="425.6" y2="117.7"/>
<line x1="422.3" y1="96.2" x2="428.90000000000003" y2="96.2"/>
<line x1="422.3" y1="117.7" x2="428.90000000000003" y2="117.7"/>
<line x1="422.3" y1="100.1" x2="428.90000000000003" y2="100.1"/>
<line x1="472.5" y1="69.7" x2="472.5" y2="97.2"/>
<line x1="469.2" y1="69.7" x2="475.8" y2="69.7"/>
<line x1="469.2" y1="97.2" x2="475.8" y2="97.2"/>
<line x1="469.2" y1="94.5" x2="475.8" y2="94.5"/>
<polyline points="378.5,121.5 425.6,109.7 472.5,88.3"/>
<polyline points="378.5,120.2 425.6,106.9 472.5,83.5"/>
</g>
<rect x="375.3" y="118.3" width="6.4" height="6.4" fill="#000"/>
<rect x="422.40000000000003" y="106.5" width="6.4" height="6.4" fill="#000"/>
<rect x="469.3" y="85.1" width="6.4" height="6.4" fill="#000"/>
<circle cx="378.5" cy="120.2" r="2.8" fill="#fff" stroke="#000" stroke-width="1.5"/>
<circle cx="425.6" cy="106.9" r="2.8" fill="#fff" stroke="#000" stroke-width="1.5"/>
<circle cx="472.5" cy="83.5" r="2.8" fill="#fff" stroke="#000" stroke-width="1.5"/>
<text x="6.6" y="254.6" font-family="Liberation Sans" font-weight="bold" font-size="17.8">C</text>
<g stroke="#000" stroke-width="1.6" fill="none">
<path d="M39.6,261 L39.6,407.4 L272.7,407.4"/>
<line x1="36.800000000000004" y1="407.4" x2="39.6" y2="407.4"/>
<line x1="36.800000000000004" y1="379.6" x2="39.6" y2="379.6"/>
<line x1="36.800000000000004" y1="351.8" x2="39.6" y2="351.8"/>
<line x1="36.800000000000004" y1="324.0" x2="39.6" y2="324.0"/>
<line x1="36.800000000000004" y1="296.2" x2="39.6" y2="296.2"/>
<line x1="36.800000000000004" y1="268.4" x2="39.6" y2="268.4"/>
<line x1="39.6" y1="407.4" x2="39.6" y2="410.2"/>
<line x1="72.9" y1="407.4" x2="72.9" y2="410.2"/>
<line x1="106.2" y1="407.4" x2="106.2" y2="410.2"/>
<line x1="139.5" y1="407.4" x2="139.5" y2="410.2"/>
<line x1="172.8" y1="407.4" x2="172.8" y2="410.2"/>
<line x1="206.1" y1="407.4" x2="206.1" y2="410.2"/>
<line x1="239.4" y1="407.4" x2="239.4" y2="410.2"/>
<line x1="272.7" y1="407.4" x2="272.7" y2="410.2"/>
</g>
<g font-family="Liberation Serif" font-weight="bold" stroke="#000" stroke-width="0.22" font-size="10.4" text-anchor="end">
<text x="34.6" y="411.2">0</text>
<text x="34.6" y="383.4">20</text>
<text x="34.6" y="355.6">40</text>
<text x="34.6" y="327.8">60</text>
<text x="34.6" y="300.0">80</text>
<text x="34.6" y="272.2">100</text>
</g>
<g font-family="Liberation Serif" font-weight="bold" stroke="#000" stroke-width="0.22" font-size="10.4" text-anchor="middle">
<text x="40.6" y="420.2">0</text>
<text x="73.9" y="420.2">10</text>
<text x="107.2" y="420.2">20</text>
<text x="140.5" y="420.2">30</text>
<text x="173.8" y="420.2">40</text>
<text x="207.1" y="420.2">50</text>
<text x="240.4" y="420.2">60</text>
<text x="273.7" y="420.2">70</text>
<text x="155.3" y="433.9">Days after transplantation</text>
<text transform="translate(16.6,337) rotate(-90)" x="0" y="0" letter-spacing="0.42">Survival (%)</text>
</g>
<g stroke="#000" stroke-width="1.3" fill="none">
<polyline points="39.6,268.4 52.9,268.4 66.2,268.4 79.6,268.4 92.9,268.4 106.2,268.4 119.5,268.4 132.8,268.4 146.2,268.4 159.5,268.4 172.8,268.4 186.1,268.4 199.4,268.4 212.8,268.4 226.1,268.4 239.4,268.4 252.7,268.4 266.0,268.4"/>
<polyline points="52.9,268.4 66.2,268.4 79.6,268.4 92.9,268.4 106.2,268.4 119.5,268.4 132.8,291.6 146.2,349.4 159.5,374.7 172.8,384.2 186.1,395.9 199.4,395.9 212.8,407.4 226.1,407.4 239.4,407.4 252.7,407.4 266.0,407.4"/>
<polyline points="52.9,268.4 66.2,268.4 79.6,268.4 92.9,268.4 106.2,268.4 119.5,279.9 132.8,279.9 146.2,303.1 159.5,337.9 172.8,361.1 186.1,361.1 199.4,361.1 212.8,372.6 226.1,384.2 239.4,384.2 252.7,384.2 266.0,384.2"/>
<polyline points="52.9,268.4 66.2,268.4 79.6,268.4 92.9,268.4 106.2,268.4 119.5,268.4 132.8,268.4 146.2,279.9 159.5,291.6 172.8,303.1 186.1,326.4 199.4,326.4 212.8,326.4 226.1,337.9 239.4,349.4 252.7,349.4 266.0,349.4"/>
</g>
<path d="M52.9,265.3 L55.8,271.2 L50.0,271.2 Z" fill="#000" stroke="#000" stroke-width="0.6"/>
<path d="M66.2,265.3 L69.1,271.2 L63.3,271.2 Z" fill="#000" stroke="#000" stroke-width="0.6"/>
<path d="M79.6,265.3 L82.5,271.2 L76.7,271.2 Z" fill="#000" stroke="#000" stroke-width="0.6"/>
<path d="M92.9,265.3 L95.8,271.2 L90.0,271.2 Z" fill="#000" stroke="#000" stroke-width="0.6"/>
<path d="M106.2,265.3 L109.1,271.2 L103.3,271.2 Z" fill="#000" stroke="#000" stroke-width="0.6"/>
<path d="M119.5,265.3 L122.4,271.2 L116.6,271.2 Z" fill="#000" stroke="#000" stroke-width="0.6"/>
<path d="M132.8,265.3 L135.7,271.2 L129.9,271.2 Z" fill="#000" stroke="#000" stroke-width="0.6"/>
<path d="M146.2,265.3 L149.1,271.2 L143.3,271.2 Z" fill="#000" stroke="#000" stroke-width="0.6"/>
<path d="M159.5,265.3 L162.4,271.2 L156.6,271.2 Z" fill="#000" stroke="#000" stroke-width="0.6"/>
<path d="M172.8,265.3 L175.7,271.2 L169.9,271.2 Z" fill="#000" stroke="#000" stroke-width="0.6"/>
<path d="M186.1,265.3 L189.0,271.2 L183.2,271.2 Z" fill="#000" stroke="#000" stroke-width="0.6"/>
<path d="M199.4,265.3 L202.3,271.2 L196.5,271.2 Z" fill="#000" stroke="#000" stroke-width="0.6"/>
<path d="M212.8,265.3 L215.7,271.2 L209.9,271.2 Z" fill="#000" stroke="#000" stroke-width="0.6"/>
<path d="M226.1,265.3 L229.0,271.2 L223.2,271.2 Z" fill="#000" stroke="#000" stroke-width="0.6"/>
<path d="M239.4,265.3 L242.3,271.2 L236.5,271.2 Z" fill="#000" stroke="#000" stroke-width="0.6"/>
<path d="M252.7,265.3 L255.6,271.2 L249.8,271.2 Z" fill="#000" stroke="#000" stroke-width="0.6"/>
<path d="M266.0,265.3 L268.9,271.2 L263.1,271.2 Z" fill="#000" stroke="#000" stroke-width="0.6"/>
<circle cx="52.9" cy="268.4" r="2.75" fill="#fff" stroke="#000" stroke-width="1.25"/>
<circle cx="66.2" cy="268.4" r="2.75" fill="#fff" stroke="#000" stroke-width="1.25"/>
<circle cx="79.6" cy="268.4" r="2.75" fill="#fff" stroke="#000" stroke-width="1.25"/>
<circle cx="92.9" cy="268.4" r="2.75" fill="#fff" stroke="#000" stroke-width="1.25"/>
<circle cx="106.2" cy="268.4" r="2.75" fill="#fff" stroke="#000" stroke-width="1.25"/>
<circle cx="119.5" cy="268.4" r="2.75" fill="#fff" stroke="#000" stroke-width="1.25"/>
<circle cx="132.8" cy="268.4" r="2.75" fill="#fff" stroke="#000" stroke-width="1.25"/>
<circle cx="146.2" cy="279.9" r="2.75" fill="#fff" stroke="#000" stroke-width="1.25"/>
<circle cx="159.5" cy="291.6" r="2.75" fill="#fff" stroke="#000" stroke-width="1.25"/>
<circle cx="172.8" cy="303.1" r="2.75" fill="#fff" stroke="#000" stroke-width="1.25"/>
<circle cx="186.1" cy="326.4" r="2.75" fill="#fff" stroke="#000" stroke-width="1.25"/>
<circle cx="199.4" cy="326.4" r="2.75" fill="#fff" stroke="#000" stroke-width="1.25"/>
<circle cx="212.8" cy="326.4" r="2.75" fill="#fff" stroke="#000" stroke-width="1.25"/>
<circle cx="226.1" cy="337.9" r="2.75" fill="#fff" stroke="#000" stroke-width="1.25"/>
<circle cx="239.4" cy="349.4" r="2.75" fill="#fff" stroke="#000" stroke-width="1.25"/>
<circle cx="252.7" cy="349.4" r="2.75" fill="#fff" stroke="#000" stroke-width="1.25"/>
<circle cx="266.0" cy="349.4" r="2.75" fill="#fff" stroke="#000" stroke-width="1.25"/>
<rect x="50.1" y="265.5" width="5.7" height="5.7" fill="#000"/>
<rect x="63.4" y="265.5" width="5.7" height="5.7" fill="#000"/>
<rect x="76.7" y="265.5" width="5.7" height="5.7" fill="#000"/>
<rect x="90.0" y="265.5" width="5.7" height="5.7" fill="#000"/>
<rect x="103.3" y="265.5" width="5.7" height="5.7" fill="#000"/>
<rect x="116.7" y="277.1" width="5.7" height="5.7" fill="#000"/>
<rect x="130.0" y="277.1" width="5.7" height="5.7" fill="#000"/>
<rect x="143.3" y="300.3" width="5.7" height="5.7" fill="#000"/>
<rect x="156.6" y="335.0" width="5.7" height="5.7" fill="#000"/>
<rect x="169.9" y="358.3" width="5.7" height="5.7" fill="#000"/>
<rect x="183.3" y="358.3" width="5.7" height="5.7" fill="#000"/>
<rect x="196.6" y="358.3" width="5.7" height="5.7" fill="#000"/>
<rect x="209.9" y="369.8" width="5.7" height="5.7" fill="#000"/>
<rect x="223.2" y="381.3" width="5.7" height="5.7" fill="#000"/>
<rect x="236.6" y="381.3" width="5.7" height="5.7" fill="#000"/>
<rect x="249.9" y="381.3" width="5.7" height="5.7" fill="#000"/>
<rect x="263.2" y="381.3" width="5.7" height="5.7" fill="#000"/>
<path d="M50.2,266.2 L55.7,266.2 L52.9,271.8 Z" fill="#fff" stroke="#000" stroke-width="1.25" stroke-linejoin="miter"/>
<path d="M63.5,266.2 L69.0,266.2 L66.2,271.8 Z" fill="#fff" stroke="#000" stroke-width="1.25" stroke-linejoin="miter"/>
<path d="M76.8,266.2 L82.3,266.2 L79.6,271.8 Z" fill="#fff" stroke="#000" stroke-width="1.25" stroke-linejoin="miter"/>
<path d="M90.1,266.2 L95.6,266.2 L92.9,271.8 Z" fill="#fff" stroke="#000" stroke-width="1.25" stroke-linejoin="miter"/>
<path d="M103.4,266.2 L108.9,266.2 L106.2,271.8 Z" fill="#fff" stroke="#000" stroke-width="1.25" stroke-linejoin="miter"/>
<path d="M116.8,266.2 L122.3,266.2 L119.5,271.8 Z" fill="#fff" stroke="#000" stroke-width="1.25" stroke-linejoin="miter"/>
<path d="M130.1,289.4 L135.6,289.4 L132.8,295.1 Z" fill="#fff" stroke="#000" stroke-width="1.25" stroke-linejoin="miter"/>
<path d="M143.4,347.2 L148.9,347.2 L146.2,352.9 Z" fill="#fff" stroke="#000" stroke-width="1.25" stroke-linejoin="miter"/>
<path d="M156.7,372.5 L162.2,372.5 L159.5,378.2 Z" fill="#fff" stroke="#000" stroke-width="1.25" stroke-linejoin="miter"/>
<path d="M170.0,382.0 L175.5,382.0 L172.8,387.6 Z" fill="#fff" stroke="#000" stroke-width="1.25" stroke-linejoin="miter"/>
<path d="M183.4,393.7 L188.9,393.7 L186.1,399.3 Z" fill="#fff" stroke="#000" stroke-width="1.25" stroke-linejoin="miter"/>
<path d="M196.7,393.7 L202.2,393.7 L199.4,399.3 Z" fill="#fff" stroke="#000" stroke-width="1.25" stroke-linejoin="miter"/>
<path d="M210.0,405.2 L215.5,405.2 L212.8,410.8 Z" fill="#fff" stroke="#000" stroke-width="1.25" stroke-linejoin="miter"/>
<path d="M223.3,405.2 L228.8,405.2 L226.1,410.8 Z" fill="#fff" stroke="#000" stroke-width="1.25" stroke-linejoin="miter"/>
<path d="M236.7,405.2 L242.2,405.2 L239.4,410.8 Z" fill="#fff" stroke="#000" stroke-width="1.25" stroke-linejoin="miter"/>
<path d="M250.0,405.2 L255.5,405.2 L252.7,410.8 Z" fill="#fff" stroke="#000" stroke-width="1.25" stroke-linejoin="miter"/>
<path d="M263.3,405.2 L268.8,405.2 L266.0,410.8 Z" fill="#fff" stroke="#000" stroke-width="1.25" stroke-linejoin="miter"/>
<g stroke="#000" stroke-width="1.4">
<line x1="42.6" y1="353.5" x2="55.5" y2="353.5"/>
<line x1="42.6" y1="368.3" x2="55.5" y2="368.3"/>
<line x1="42.6" y1="383.1" x2="55.5" y2="383.1"/>
<line x1="42.6" y1="397.9" x2="55.5" y2="397.9"/>
</g>
<path d="M49.2,350.0 L52.5,356.6 L45.9,356.6 Z" fill="#000" stroke="#000" stroke-width="0.6"/>
<path d="M46.2,365.9 L52.2,365.9 L49.2,372.1 Z" fill="#fff" stroke="#000" stroke-width="1.25" stroke-linejoin="miter"/>
<rect x="45.9" y="379.8" width="6.6" height="6.6" fill="#000"/>
<circle cx="49.2" cy="397.9" r="2.9" fill="#fff" stroke="#000" stroke-width="1.25"/>
<g font-family="Liberation Serif" font-weight="bold" stroke="#000" stroke-width="0.22" font-size="10.4">
<text x="58.8" y="357.0">BM</text>
<text x="58.8" y="371.8">BM+EL<tspan dx="-0.9">–</tspan><tspan dx="-0.7">4</tspan></text>
<text x="58.8" y="386.6">BM+CD8<tspan dy="-2.7" font-size="7.6">+</tspan><tspan dy="2.7">T+IgG+EL</tspan><tspan dx="-0.9">–</tspan><tspan dx="-0.7">4</tspan></text>
<text x="58.8" y="401.4">BM+CD8<tspan dy="-2.7" font-size="7.6">+</tspan><tspan dy="2.7">T+αOPN+EL</tspan><tspan dx="-0.9">–</tspan><tspan dx="-0.7">4</tspan></text>
</g>
<path d="M277.3,348.6 H281.5 V372.8 M281.5,385.4 V405.4 H277.3" stroke="#000" stroke-width="1.4" fill="none"/>
<path d="M282.30,379.40 L282.30,376.80 M282.30,379.40 L284.77,378.60 M282.30,379.40 L283.83,381.50 M282.30,379.40 L280.77,381.50 M282.30,379.40 L279.83,378.60" stroke="#000" stroke-width="1.3" stroke-linecap="round"/>
<g stroke="#000" stroke-width="1.7" fill="none">
<path d="M341,270.8 L341,406 L437.5,406"/>
<line x1="338" y1="406.0" x2="341" y2="406.0"/>
<line x1="338" y1="379.0" x2="341" y2="379.0"/>
<line x1="338" y1="351.9" x2="341" y2="351.9"/>
<line x1="338" y1="324.9" x2="341" y2="324.9"/>
<line x1="338" y1="297.8" x2="341" y2="297.8"/>
<line x1="338" y1="270.8" x2="341" y2="270.8"/>
</g>
<g font-family="Liberation Serif" font-weight="bold" stroke="#000" stroke-width="0.22" font-size="10.4" text-anchor="end">
<text x="334.2" y="410.9">0</text>
<text x="334.2" y="383.9">20</text>
<text x="334.2" y="356.8">40</text>
<text x="334.2" y="329.8">60</text>
<text x="334.2" y="302.7">80</text>
<text x="334.2" y="275.7">100</text>
</g>
<text transform="translate(315.3,340) rotate(-90)" font-family="Liberation Serif" font-weight="bold" stroke="#000" stroke-width="0.22" font-size="10.4" text-anchor="middle" letter-spacing="0.36">Death rate (%)</text>
<rect x="348.2" y="270.8" width="17.1" height="135.2" fill="#000" stroke="#000" stroke-width="1.5"/>
<rect x="380.7" y="361.0" width="16.5" height="45.0" fill="#000" stroke="#000" stroke-width="1.5"/>
<rect x="380.7" y="327.2" width="16.5" height="33.8" fill="#888" stroke="#000" stroke-width="1.5"/>
<rect x="380.7" y="293.4" width="16.5" height="33.8" fill="#fff" stroke="#000" stroke-width="1.5"/>
<rect x="412.7" y="361.0" width="16.5" height="45.0" fill="#000" stroke="#000" stroke-width="1.5"/>
<rect x="412.7" y="327.2" width="16.5" height="33.8" fill="#fff" stroke="#000" stroke-width="1.5"/>
<rect x="431" y="268.40000000000003" width="16.6" height="6.2" fill="#000" stroke="#000" stroke-width="1.4"/>
<rect x="431" y="282.3" width="16.6" height="6.2" fill="#fff" stroke="#000" stroke-width="1.4"/>
<rect x="431" y="297.90000000000003" width="16.6" height="6.2" fill="#888" stroke="#000" stroke-width="1.4"/>
<g font-family="Liberation Serif" font-weight="bold" stroke="#000" stroke-width="0.22" font-size="10.4">
<text x="451.2" y="274.6">Leukemia only</text>
<text x="451.2" y="288.7">GVHD only</text>
<text x="452.8" y="303.7">Both GVHD</text>
<text x="452.3" y="316.2">and leukemia</text>
</g>
<g font-family="Liberation Serif" font-weight="bold" stroke="#000" stroke-width="0.22" font-size="10.4" text-anchor="end">
<text transform="translate(359.5,415.5) rotate(-45)" x="0" y="0">BM+EL<tspan dx="-0.6">–</tspan><tspan dx="-0.4">4</tspan></text>
<text transform="translate(392.5,415.5) rotate(-45)" x="0" y="0">BM+CD8<tspan dy="-2.7" font-size="7.6">+</tspan><tspan dy="2.7">T+IgG+EL</tspan><tspan dx="-0.6">–</tspan><tspan dx="-0.4">4</tspan></text>
<text transform="translate(425.3,414.8) rotate(-45)" x="0" y="0">BM+CD8<tspan dy="-2.7" font-size="7.6">+</tspan><tspan dy="2.7">T+α<tspan dx="1.3">OPN+EL</tspan></tspan><tspan dx="-0.6">–</tspan><tspan dx="-0.4">4</tspan></text>
</g>
</svg>
</body></html>
